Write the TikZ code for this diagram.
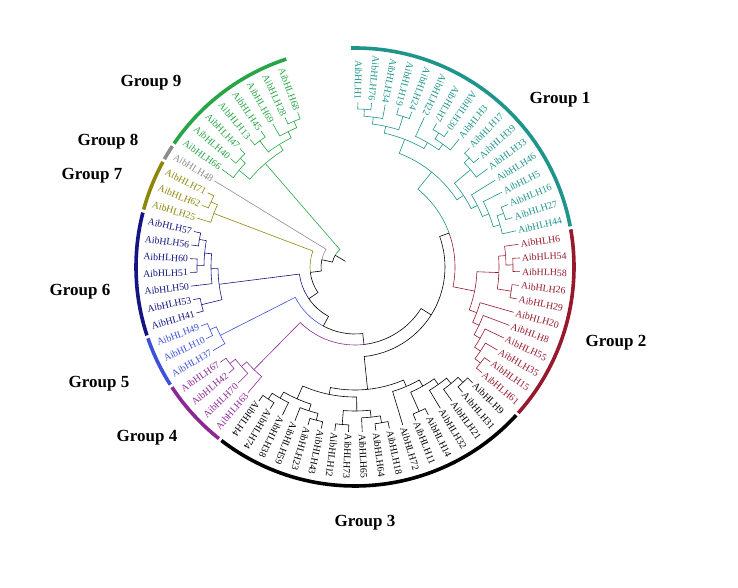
\documentclass[tikz,border=0pt]{standalone}
\usepackage{fontspec}
\setmainfont{Liberation Serif}
\definecolor{c1}{RGB}{30,148,138}
\definecolor{c2}{RGB}{150,25,45}
\definecolor{c3}{RGB}{0,0,0}
\definecolor{c4}{RGB}{140,40,150}
\definecolor{c5}{RGB}{60,80,220}
\definecolor{c6}{RGB}{20,20,130}
\definecolor{c7}{RGB}{140,135,10}
\definecolor{c8}{RGB}{140,140,140}
\definecolor{c9}{RGB}{40,165,70}
\definecolor{cb}{RGB}{0,0,0}
\makeatletter
% leaf: #1 index, #2 gene number
\newcommand\Lf[2]{%
  \pgfmathsetmacro\la{89-4.77*#1}%
  \expandafter\xdef\csname ang@k#1\endcsname{\la}%
  \expandafter\xdef\csname rad@k#1\endcsname{165}%
  \expandafter\xdef\csname col@k#1\endcsname{\curcol}%
  \pgfmathparse{(\la<53 && \la>-128) ? 1 : 0}%
  \ifdim\pgfmathresult pt>0.5pt
    \node[leaflab,text=\curcol,rotate=\la,anchor=west] (L#1) at (\la:167) {AibHLH#2};%
  \else
    \pgfmathsetmacro\lb{\la+180}%
    \node[leaflab,text=\curcol,rotate=\lb,anchor=east] (L#1) at (\la:167) {AibHLH#2};%
  \fi
}
% internal node: #1 key, #2 radius, #3 #4 children keys
\newcommand\In[4]{%
  \edef\aA{\csname ang@#3\endcsname}\edef\aB{\csname ang@#4\endcsname}%
  \edef\rA{\csname rad@#3\endcsname}\edef\rB{\csname rad@#4\endcsname}%
  \edef\cA{\csname col@#3\endcsname}\edef\cB{\csname col@#4\endcsname}%
  \pgfmathsetmacro\aM{(\aA+\aB)/2}%
  \draw[br,color=\cA] (\aA:\rA) -- (\aA:#2) arc[start angle=\aA,end angle=\aM,radius=#2];
  \draw[br,color=\cB] (\aB:\rB) -- (\aB:#2) arc[start angle=\aB,end angle=\aM,radius=#2];
  \coordinate (n#1) at (\aM:#2);
  \expandafter\xdef\csname ang@#1\endcsname{\aM}%
  \expandafter\xdef\csname rad@#1\endcsname{#2}%
  \expandafter\xdef\csname col@#1\endcsname{\curcol}%
}
% group arc: #1 colour, #2 start angle, #3 end angle
\newcommand\Garc[3]{\draw[grparc,color=#1] (#2:219) arc[start angle=#2,end angle=#3,radius=219];}
\makeatother
\begin{document}
\begin{tikzpicture}[x=1pt,y=1pt,
  br/.style={line width=0.6pt},
  leaflab/.style={inner sep=0pt,font=\fontsize{9.8}{10}\selectfont},
  grparc/.style={line width=3.6pt},
  grplab/.style={font=\fontsize{17}{20}\selectfont\bfseries,inner sep=0pt}]
\useasboundingbox (0,0) rectangle (738,587);
\begin{scope}[shift={(355,320)}]
% ---------- Group 1
\def\curcol{c1}
\Lf{0}{1}\Lf{1}{76}\Lf{2}{34}\Lf{3}{19}\Lf{4}{24}\Lf{5}{22}\Lf{6}{7}\Lf{7}{30}
\Lf{8}{3}\Lf{9}{17}\Lf{10}{39}\Lf{11}{33}\Lf{12}{46}\Lf{13}{5}\Lf{14}{16}\Lf{15}{27}\Lf{16}{44}
\In{a1}{158}{k0}{k1}
\In{a2}{151}{a1}{k2}
\In{a3}{158}{k3}{k4}
\In{A1}{144}{a2}{a3}
\In{b1}{158}{k6}{k7}
\In{b2}{151}{b1}{k8}
\In{B1}{144}{k5}{b2}
\In{AB}{137}{A1}{B1}
\In{c1}{158}{k9}{k10}
\In{C1}{151}{c1}{k11}
\In{d1}{158}{k14}{k15}
\In{d2}{151}{d1}{k16}
\In{d3}{144}{k13}{d2}
\In{D1}{137}{k12}{d3}
\In{CD}{130}{C1}{D1}
\In{G1}{122}{AB}{CD}
% ---------- Group 2
\def\curcol{c2}
\Lf{17}{6}\Lf{18}{54}\Lf{19}{58}\Lf{20}{26}\Lf{21}{29}\Lf{22}{20}\Lf{23}{8}
\Lf{24}{55}\Lf{25}{35}\Lf{26}{15}\Lf{27}{61}
\In{e1}{158}{k18}{k19}
\In{e2}{151}{k17}{e1}
\In{e3}{158}{k20}{k21}
\In{E2}{144}{e2}{e3}
\In{f1}{158}{k26}{k27}
\In{f2}{151}{k25}{f1}
\In{f3}{144}{k24}{f2}
\In{f4}{137}{k23}{f3}
\In{F2}{130}{k22}{f4}
\In{G2}{122}{E2}{F2}
% ---------- Group 3
\def\curcol{c3}
\Lf{28}{9}\Lf{29}{31}\Lf{30}{21}\Lf{31}{32}\Lf{32}{14}\Lf{33}{11}\Lf{34}{72}
\Lf{35}{18}\Lf{36}{64}\Lf{37}{65}\Lf{38}{73}\Lf{39}{12}\Lf{40}{43}\Lf{41}{23}
\Lf{42}{59}\Lf{43}{38}\Lf{44}{74}\Lf{45}{4}
\In{g1}{158}{k28}{k29}
\In{g2}{151}{g1}{k30}
\In{g3}{144}{g2}{k31}
\In{g4}{158}{k32}{k33}
\In{g5}{137}{g3}{g4}
\In{R3}{130}{g5}{k34}
\In{m1}{158}{k35}{k36}
\In{m2}{151}{m1}{k37}
\In{m3}{158}{k38}{k39}
\In{M3}{144}{m2}{m3}
\In{l1}{158}{k40}{k41}
\In{l2}{151}{l1}{k42}
\In{l3}{158}{k44}{k45}
\In{l4}{151}{k43}{l3}
\In{L3}{144}{l2}{l4}
\In{ML}{130}{M3}{L3}
\In{G3}{123}{R3}{ML}
% ---------- Group 4
\def\curcol{c4}
\Lf{46}{63}\Lf{47}{70}\Lf{48}{42}\Lf{49}{67}
\In{p1}{158}{k48}{k49}
\In{p2}{151}{k47}{p1}
\In{G4}{144}{k46}{p2}
% ---------- Group 5
\def\curcol{c5}
\Lf{50}{37}\Lf{51}{10}\Lf{52}{49}
\In{q1}{158}{k51}{k52}
\In{G5}{151}{k50}{q1}
% ---------- Group 6
\def\curcol{c6}
\Lf{53}{41}\Lf{54}{53}\Lf{55}{50}\Lf{56}{51}\Lf{57}{60}\Lf{58}{56}\Lf{59}{57}
\In{s1}{158}{k53}{k54}
\In{s2}{158}{k56}{k57}
\In{s3}{158}{k58}{k59}
\In{s4}{151}{s2}{s3}
\In{s5}{144}{k55}{s4}
\In{G6}{137}{s1}{s5}
% ---------- Group 7
\def\curcol{c7}
\Lf{60}{25}\Lf{61}{62}\Lf{62}{71}
\In{t1}{158}{k61}{k62}
\In{G7}{151}{k60}{t1}
% ---------- Group 8
\def\curcol{c8}
\Lf{63}{48}
% ---------- Group 9
\def\curcol{c9}
\Lf{64}{66}\Lf{65}{40}\Lf{66}{47}\Lf{67}{13}\Lf{68}{45}\Lf{69}{69}\Lf{70}{28}\Lf{71}{68}
\In{u1}{158}{k65}{k66}
\In{u2}{151}{k64}{u1}
\In{u3}{158}{k67}{k68}
\In{u4}{158}{k70}{k71}
\In{u5}{151}{k69}{u4}
\In{u6}{144}{u3}{u5}
\In{G9}{137}{u2}{u6}
% ---------- backbone
\def\curcol{cb}
\In{N8}{100}{G1}{G2}
\In{N7}{90}{N8}{G3}
\In{N6}{78}{N7}{G4}
\In{N5}{67}{N6}{G5}
\In{N4}{56}{N5}{G6}
\In{N3}{45}{N4}{G7}
\In{N2}{34}{N3}{k63}
\In{N1}{23}{N2}{G9}
\coordinate (rootend) at (149.3:11);
\draw[br] (nN1) -- (rootend);
% ---------- group arcs
\Garc{c1}{91.0}{10.7}
\Garc{c2}{9.9}{-41.8}
\Garc{black}{-42.6}{-127.6}
\Garc{c4}{-128.4}{-146.7}
\Garc{c5}{-147.5}{-161.0}
\Garc{c6}{-161.8}{-194.4}
\Garc{c7}{-195.2}{-208.7}
\Garc{c8}{-209.5}{-213.5}
\Garc{c9}{-214.3}{-251.7}
\end{scope}
% ---------- group labels
\node[grplab] (t1) at (560,487) {Group 1};
\node[grplab] (t2) at (616,244) {Group 2};
\node[grplab] (t3) at (365,64) {Group 3};
\node[grplab] (t4) at (147,149) {Group 4};
\node[grplab] (t5) at (99,203) {Group 5};
\node[grplab] (t6) at (80,295) {Group 6};
\node[grplab] (t7) at (92,411) {Group 7};
\node[grplab] (t8) at (108,445) {Group 8};
\node[grplab] (t9) at (151,504) {Group 9};
\end{tikzpicture}
\end{document}
